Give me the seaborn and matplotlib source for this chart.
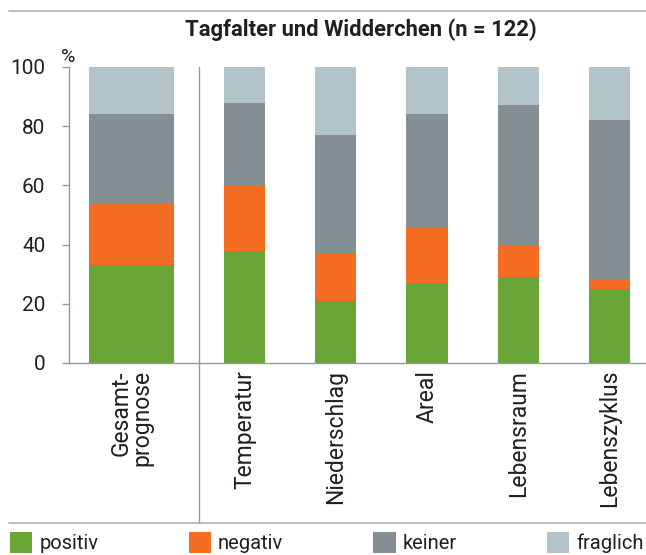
import numpy as np
import pandas as pd
import matplotlib
matplotlib.use("Agg")
import matplotlib.pyplot as plt
import seaborn as sns
from matplotlib.lines import Line2D
from matplotlib.patches import Patch

# ---- data ----
categories = ["Gesamt-\nprognose", "Temperatur", "Niederschlag", "Areal", "Lebensraum", "Lebenszyklus"]
positiv = [33, 38, 21, 27, 29, 25]
negativ = [21, 22, 16, 19, 11, 3]
keiner = [30, 28, 40, 38, 47, 54]
fraglich = [16, 12, 23, 16, 13, 18]
series_names = ["positiv", "negativ", "keiner", "fraglich"]
colors = ["#69a436", "#f46d22", "#859095", "#b2c4ca"]
title = "Tagfalter und Widderchen (n = 122)"
yticks = [0, 20, 40, 60, 80, 100]

# ---- style ----
sns.set_style("white")
plt.rcParams['font.family'] = ['Roboto', 'DejaVu Sans']
text_color = "#231f20"
line_color = "#8f9ca2"

W, H = 646, 555
fig = plt.figure(figsize=(W / 100, H / 100), dpi=100)
ax_left, ax_right, ax_top, ax_bottom = 69, 646, 67, 363
ax = fig.add_axes([ax_left / W, 1 - ax_bottom / H, (ax_right - ax_left) / W, (ax_bottom - ax_top) / H])

# layout positions (x in units of the regular bar spacing)
pos = np.array([-1.24, 0, 1, 2, 3, 4])
df = pd.DataFrame({"cat": categories, "x": pos,
                   "positiv": positiv, "negativ": negativ,
                   "keiner": keiner, "fraglich": fraglich})
cum = df[series_names].cumsum(axis=1)

for name, color in reversed(list(zip(series_names, colors))):
    d = df.assign(top=cum[name])
    sns.barplot(data=d.iloc[1:], x="x", y="top", native_scale=True, width=0.45,
                color=color, saturation=1, linewidth=0, errorbar=None, ax=ax)
    sns.barplot(data=d.iloc[:1], x="x", y="top", native_scale=True, width=0.93,
                color=color, saturation=1, linewidth=0, errorbar=None, ax=ax)

ax.set_xlim(-1.923, 4.40)
ax.set_ylim(0, 100)
ax.set_xlabel("")
ax.set_ylabel("")
ax.set_xticks(pos)
ax.set_xticklabels(categories, rotation=90, ha="center", va="top",
                   multialignment="right", linespacing=0.9,
                   fontsize=16.5, color=text_color)
ax.set_yticks(yticks)
ax.set_yticklabels([str(v) for v in yticks], fontsize=15, color=text_color)
ax.tick_params(axis="x", length=0, pad=5)
ax.tick_params(axis="y", length=5, width=1, color=line_color, pad=12, left=True)
for s in ["top", "right"]:
    ax.spines[s].set_visible(False)
for s in ["left", "bottom"]:
    ax.spines[s].set_color(line_color)
    ax.spines[s].set_linewidth(1)
ax.grid(False)

# separator and frame lines
fig.add_artist(Line2D([198.7 / W] * 2, [1 - ax_top / H, 1 - 523 / H], color=line_color, lw=1))
fig.add_artist(Line2D([9 / W, 1], [1 - 11 / H] * 2, color="#a9b5ba", lw=1.2))
fig.add_artist(Line2D([9 / W, 1], [1 - 523 / H] * 2, color="#a9b5ba", lw=1.2))

fig.text(185 / W, 1 - 30 / H, title, fontweight="bold", fontsize=15.8,
         ha="left", va="center", color=text_color)
fig.text(68 / W, 1 - 57 / H, "%", fontsize=14, ha="center", va="center", color=text_color)

handles = [Patch(facecolor=c, edgecolor="none") for c in colors]
fig.legend(handles, series_names, loc="upper left",
           bbox_to_anchor=(10 / W, 1 - 532 / H, (644 - 10) / W, 0),
           mode="expand", ncol=4, frameon=False, fontsize=14.5,
           handlelength=1.1, handleheight=1.25, handletextpad=0.36,
           borderpad=0, borderaxespad=0, labelcolor=text_color)

fig.savefig("out.png", dpi=100)
